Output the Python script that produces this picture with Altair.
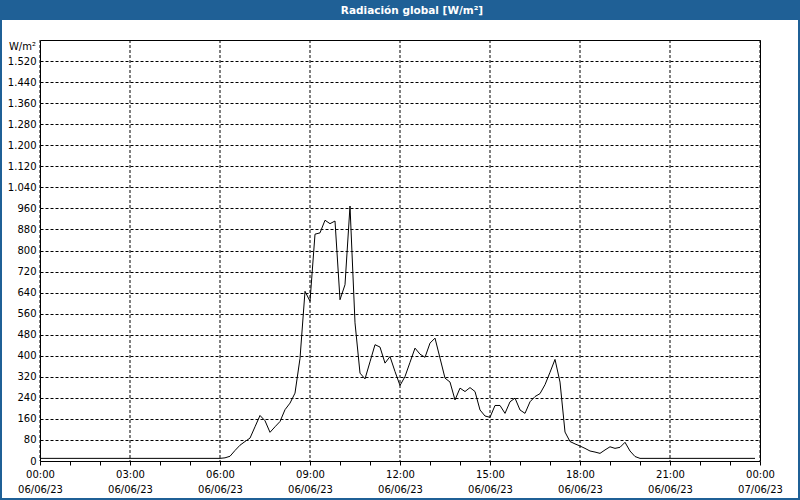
import altair as alt
import pandas as pd

TITLE = "Radiación global [W/m²]"
UNIT = "W/m²"
BLUE = "#1f6096"
START = "2023-06-06 00:00"
END = "2023-06-07 00:00"
STEP = "10min"

# 10-minute samples, one row per hour (00:00 ... 23:50)
values = [
    10, 10, 10, 10, 10, 10,       # 00
    10, 10, 10, 10, 10, 10,       # 01
    10, 10, 10, 10, 10, 10,       # 02
    10, 10, 10, 10, 10, 10,       # 03
    10, 10, 10, 10, 10, 10,       # 04
    10, 10, 10, 10, 10, 10,       # 05
    10, 12, 18, 40, 60, 74,       # 06
    87, 130, 173, 153, 109, 130,  # 07
    150, 195, 220, 258, 390, 645, # 08
    607, 862, 867, 915, 902, 912, # 09
    613, 670, 969, 525, 334, 312, # 10
    377, 442, 433, 372, 397, 340, # 11
    287, 321, 375, 429, 406, 394, # 12
    448, 467, 391, 315, 300, 232, # 13
    277, 264, 279, 264, 194, 171, # 14
    166, 211, 211, 181, 225, 239, # 15
    194, 181, 225, 245, 256, 290, # 16
    337, 386, 300, 110, 74, 65,   # 17
    57, 48, 38, 34, 29, 42,       # 18
    54, 48, 52, 71, 38, 17,       # 19
    10, 10, 10, 10, 10, 10,       # 20
    10, 10, 10, 10, 10, 10,       # 21
    10, 10, 10, 10, 10, 10,       # 22
    10, 10, 10, 10, 10, 10,       # 23
]

y_ticks = [0, 80, 160, 240, 320, 400, 480, 560, 640, 720, 800, 880, 960,
           1040, 1120, 1200, 1280, 1360, 1440, 1520]

FMT = "%Y-%m-%dT%H:%M:%SZ"
times = pd.date_range(start=START, periods=len(values), freq=STEP).strftime(FMT)
df = pd.DataFrame({"time": list(times), "value": values})

hour_ticks = pd.date_range(start=START, end=END, freq="1h", tz="UTC")
hour_ms = [int(t.value // 1_000_000) for t in hour_ticks]
grid_df = pd.DataFrame({"t": list(pd.date_range(start=START, end=END, freq="3h").strftime(FMT))})

FONT = "DejaVu Sans"
FS = 10

x_scale = alt.Scale(type="utc", domain=[hour_ms[0], hour_ms[-1]])

x_axis = alt.Axis(
    values=hour_ms,
    labelExpr="utchours(datum.value) % 3 == 0 ? [utcFormat(datum.value, '%H:%M'), utcFormat(datum.value, '%d/%m/%y')] : ''",
    grid=False,
    tickSize=4,
    labelPadding=4,
    labelLineHeight=15,
    labelOverlap=False,
    labelFlush=False,
    labelBound=False,
    domain=False,
)

y_axis = alt.Axis(
    values=y_ticks,
    labelExpr="replace(format(datum.value, ','), ',', '.')",
    ticks=False,
    grid=True,
    labelPadding=4,
    domain=False,
)

vgrid = alt.Chart(grid_df).mark_rule(color="black", strokeWidth=1, strokeDash=[3, 2]).encode(
    x=alt.X("t:T", scale=x_scale, axis=x_axis, title=None)
)

line = alt.Chart(df).mark_line(color="black", strokeWidth=1).encode(
    x=alt.X("time:T", title=None, scale=x_scale, axis=x_axis),
    y=alt.Y("value:Q", title=None, scale=alt.Scale(domain=[0, 1600], nice=False), axis=y_axis),
)

deco = alt.Chart(alt.Data(values=[{"t": TITLE, "u": UNIT}]))

bar = deco.mark_rect(color=BLUE).encode(
    x=alt.value(-40), x2=alt.value(760), y=alt.value(-40), y2=alt.value(-20)
)
border = deco.mark_rect(fillOpacity=0, stroke=BLUE, strokeWidth=2).encode(
    x=alt.value(-39), x2=alt.value(759), y=alt.value(-40), y2=alt.value(459)
)
title = deco.mark_text(
    color="white", fontWeight="bold", fontSize=10.5, font=FONT, align="center", baseline="middle"
).encode(x=alt.value(372), y=alt.value(-29.5), text="t:N")
unit = deco.mark_text(
    color="black", fontSize=FS, font=FONT, align="right", baseline="middle"
).encode(x=alt.value(-4), y=alt.value(6.5), text="u:N")

chart = alt.layer(bar, border, vgrid, line, title, unit).properties(
    width=720,
    height=421,
    autosize=alt.AutoSizeParams(type="none"),
    padding={"left": 40, "top": 40, "right": 40, "bottom": 39},
    background="white",
).configure_view(
    stroke="black", strokeWidth=1
).configure_axis(
    gridColor="black",
    gridDash=[3, 2],
    gridWidth=1,
    gridOpacity=1,
    labelFont=FONT,
    labelFontSize=FS,
    labelColor="black",
    tickColor="black",
)

chart.save("out.html", embed_options={"renderer": "svg", "actions": False})
